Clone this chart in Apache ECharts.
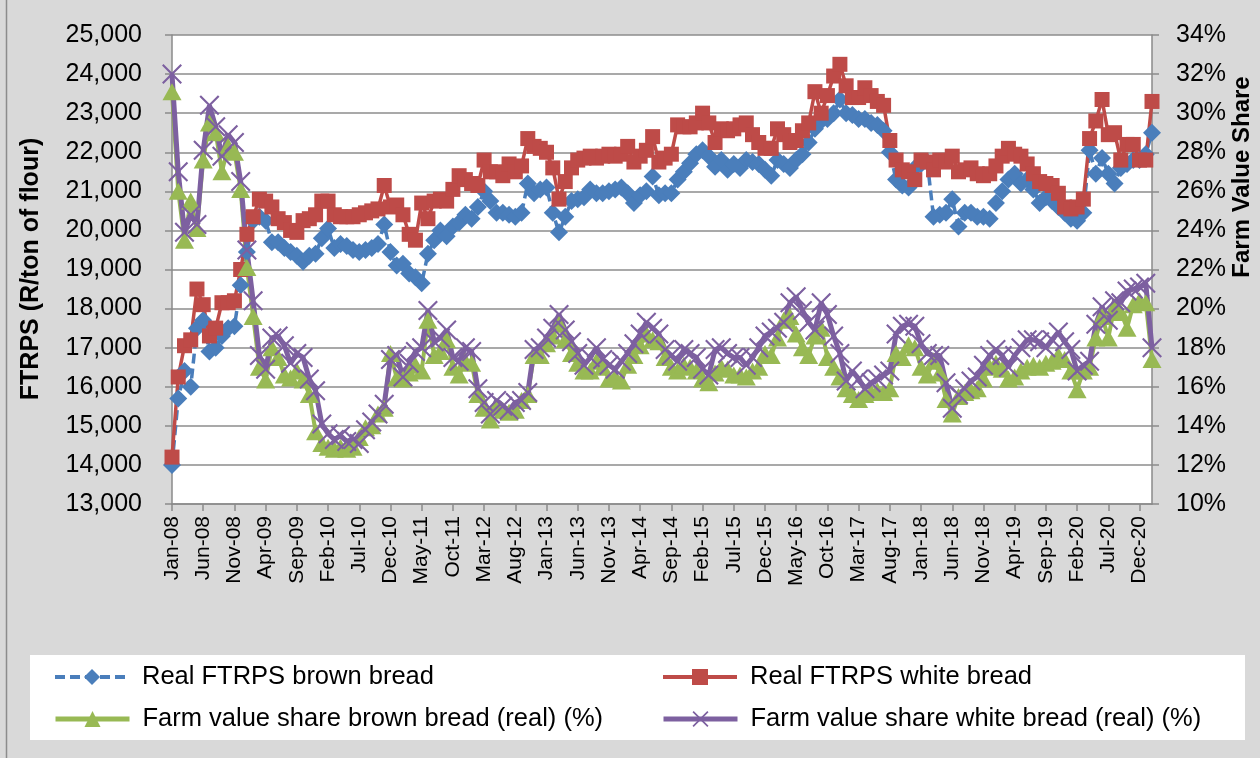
<!DOCTYPE html>
<html>
<head>
<meta charset="utf-8">
<script src="https://cdn.jsdelivr.net/npm/echarts@6/dist/echarts.min.js"></script>
<style>
  html, body { margin: 0; padding: 0; background: #d9d9d9; }
  #chart { width: 1260px; height: 758px; }
</style>
</head>
<body>
<div id="chart"></div>
<script>
// Monthly series, Jan-08 .. Feb-21
const MONTHS = ['Jan','Feb','Mar','Apr','May','Jun','Jul','Aug','Sep','Oct','Nov','Dec'];
const START_YEAR = 2008;

// Real farm-to-retail price spread (R/ton of flour)
const brownFtrps = [
  14000,15700,16400,16000,17500,17700,16900,17000,17300,17500,
  17550,18600,19450,20250,20350,20250,19700,19700,19550,19450,
  19350,19200,19350,19400,19800,20050,19550,19650,19600,19500,
  19450,19500,19550,19650,20150,19450,19100,19150,18900,18800,
  18650,19400,19750,20000,19850,20100,20200,20400,20300,20600,
  21000,20750,20450,20450,20400,20350,20450,21200,20950,21050,
  21100,20450,19950,20350,20750,20800,20850,21050,20950,20950,
  21000,21050,21100,20950,20700,20900,21000,21380,20900,20950,
  20950,21300,21500,21720,21950,22050,21900,21630,21800,21550,
  21700,21600,21800,21750,21700,21550,21400,21800,21700,21600,
  21800,21950,22250,22600,22800,22850,23000,23350,23000,22950,
  22850,22850,22750,22700,22550,22000,21300,21150,21100,21600,
  21700,21750,20350,20400,20450,20800,20100,20450,20450,20350,
  20350,20300,20700,21000,21300,21450,21200,21300,21050,20700,
  20850,20750,20600,20450,20300,20250,20450,22050,21450,21850,
  21450,21200,21600,21700,21800,21800,21950,22500
];
const whiteFtrps = [
  14200,16250,17050,17200,18500,18100,17300,17500,18150,18150,
  18200,19000,19900,20350,20800,20750,20600,20300,20200,20000,
  19950,20250,20300,20400,20750,20750,20400,20350,20350,20350,
  20400,20450,20500,20550,21150,20600,20650,20400,19900,19750,
  20700,20300,20750,20800,20750,21050,21400,21300,21200,21150,
  21800,21500,21500,21400,21700,21500,21650,22350,22150,22100,
  22000,21600,20800,21250,21600,21800,21850,21900,21850,21900,
  21950,21900,21950,22150,21750,21900,22050,22400,21750,21850,
  21950,22700,22650,22650,22750,23000,22750,22250,22600,22550,
  22600,22700,22750,22450,22250,22100,22100,22600,22450,22250,
  22300,22550,22750,23550,23000,23450,23950,24250,23700,23400,
  23400,23650,23450,23300,23200,22300,21800,21550,21500,21300,
  21800,21750,21550,21800,21750,21900,21500,21550,21600,21450,
  21400,21450,21650,21900,22100,21950,21900,21700,21450,21250,
  21200,21150,20950,20600,20550,20600,20800,22350,22800,23350,
  22450,22500,21800,22200,22200,21800,21800,23300
];

// Farm value share (%)
const brownShare = [
  31.1,26.0,23.5,25.5,24.1,27.6,29.5,29.0,27.0,28.3,
  28.0,26.1,22.1,19.6,17.0,16.35,18.0,17.5,16.6,16.45,
  16.8,16.35,15.6,13.7,13.1,12.9,12.8,12.9,12.8,12.9,
  13.4,13.9,14.0,14.6,14.9,17.7,16.45,16.4,16.7,17.1,
  16.8,19.4,17.6,17.8,18.4,17.0,16.6,17.3,17.2,15.6,
  14.9,14.3,15.0,14.8,14.7,14.8,15.3,15.6,17.6,17.6,
  18.2,18.6,19.2,18.4,17.7,17.2,16.8,16.8,17.3,17.0,
  16.4,16.5,16.3,17.1,17.6,18.1,18.7,18.4,18.3,17.5,
  17.0,16.8,17.1,17.0,16.8,16.4,16.2,16.7,17.0,16.9,
  16.6,16.6,16.5,16.8,17.0,17.7,17.6,18.5,19.4,19.6,
  18.7,18.0,17.6,18.6,19.0,17.5,17.0,16.5,15.9,15.6,
  15.35,15.6,15.7,15.8,15.7,15.9,17.7,17.5,18.15,18.0,
  17.0,16.6,17.3,16.7,15.35,14.6,15.5,15.7,15.8,15.9,
  16.4,17.0,17.2,16.9,16.4,16.5,16.8,17.0,17.1,17.0,
  17.2,17.3,17.6,17.4,16.8,15.85,16.8,17.0,18.5,19.6,
  18.5,20.1,19.8,19.0,20.2,20.4,20.3,17.4
];
const whiteShare = [
  32.0,27.0,23.9,24.8,24.3,28.1,30.4,29.3,27.8,28.9,
  28.5,26.5,23.0,20.4,17.6,16.9,18.5,18.6,18.1,17.2,
  17.7,17.5,16.4,15.8,14.1,13.6,13.3,13.5,13.2,13.3,
  13.1,13.8,14.2,14.6,15.1,17.4,17.6,16.5,17.2,17.8,
  18.0,19.9,18.3,18.5,18.9,17.5,17.3,18.0,17.8,15.9,
  15.2,14.6,15.3,15.0,14.8,15.2,15.3,15.7,17.9,18.0,
  18.5,19.0,19.7,18.9,18.3,17.7,17.1,17.5,18.0,17.4,
  17.1,16.9,17.3,17.7,18.2,18.7,19.3,19.0,18.7,17.9,
  17.6,17.3,17.9,17.7,17.5,16.9,16.6,17.9,18.0,17.7,
  17.5,17.5,17.1,17.5,18.0,18.6,18.8,19.0,19.3,20.3,
  20.6,19.9,19.3,18.9,20.3,19.7,18.6,17.7,16.3,16.8,
  16.4,15.9,16.2,16.4,16.6,16.8,18.7,19.1,19.2,19.1,
  18.2,17.7,17.6,17.6,16.2,14.9,15.6,15.9,16.3,16.5,
  17.1,17.6,17.9,17.6,17.0,17.6,18.0,18.4,18.4,18.3,
  18.0,18.4,18.8,18.3,17.9,16.8,17.1,17.3,19.2,20.1,
  19.4,20.4,20.3,20.9,21.0,21.1,21.3,18.0
];

// Month labels such as "Jan-08"
const categories = brownFtrps.map((_, i) =>
  MONTHS[i % 12] + '-' + String((START_YEAR + Math.floor(i / 12)) % 100).padStart(2, '0'));

const FONT = 'Liberation Sans, Arial, Helvetica, sans-serif';
const C_BLUE = '#4a7ebb', C_RED = '#be4b48', C_GREEN = '#98b954', C_PURPLE = '#7d60a0';
const AXIS_GREY = '#8a8a8a';
const X_MARK = 'path://M1.5,0L10,8.5L18.5,0L20,1.5L11.5,10L20,18.5L18.5,20L10,11.5L1.5,20L0,18.5L8.5,10L0,1.5Z';

const NAMES = [
  'Real FTRPS brown bread',
  'Real FTRPS white bread',
  'Farm value share brown bread (real) (%)',
  'Farm value share white bread (real) (%)'
];

const chart = echarts.init(document.getElementById('chart'), null, { renderer: 'canvas' });

function legendAt(name, left, top, lineWidth) {
  return {
    data: [name], left: left, top: top, orient: 'horizontal',
    itemWidth: 74, itemHeight: 20, padding: 0, selectedMode: false,
    lineStyle: { width: lineWidth },
    textStyle: { fontFamily: FONT, fontSize: 25.5, color: '#000', lineHeight: 28, padding: [0, 0, 0, 8] }
  };
}

chart.setOption({
  animation: false,
  backgroundColor: '#d9d9d9',
  textStyle: { fontFamily: FONT },
  grid: {
    left: 172, right: 108, top: 35, bottom: 254,
    show: true, backgroundColor: '#ffffff', borderWidth: 0
  },
  graphic: [
    { type: 'line', z: 0, shape: { x1: 6.5, y1: 0, x2: 6.5, y2: 758 },
      style: { stroke: '#8c8c8c', lineWidth: 1.5 } },
    { type: 'rect', z: 0, shape: { x: 30, y: 655, width: 1215, height: 85 },
      style: { fill: '#ffffff' } },
    { type: 'text', x: 31, y: 269, rotation: Math.PI / 2, z: 5,
      style: { text: 'FTRPS (R/ton of flour)', fontFamily: FONT, fontSize: 25, fontWeight: 'bold',
               fill: '#000', align: 'center', verticalAlign: 'middle' } },
    { type: 'text', x: 1242, y: 177, rotation: Math.PI / 2, z: 5,
      style: { text: 'Farm Value Share', fontFamily: FONT, fontSize: 24, fontWeight: 'bold',
               fill: '#000', align: 'center', verticalAlign: 'middle' } }
  ],
  legend: [
    legendAt(NAMES[0], 53, 663, 4),
    legendAt(NAMES[1], 661, 663, 4),
    legendAt(NAMES[2], 53, 705, 5),
    legendAt(NAMES[3], 661, 705, 5)
  ],
  xAxis: {
    type: 'category',
    data: categories,
    boundaryGap: false,
    axisLine: { lineStyle: { color: AXIS_GREY, width: 1.5 } },
    axisTick: { show: true, interval: 4, length: 7, lineStyle: { color: AXIS_GREY, width: 1.5 } },
    axisLabel: { interval: 4, rotate: 90, margin: 12, fontSize: 21, color: '#000', fontFamily: FONT },
    splitLine: { show: false }
  },
  yAxis: [
    {
      type: 'value', min: 13000, max: 25000, interval: 1000, position: 'left',
      axisLine: { show: true, lineStyle: { color: AXIS_GREY, width: 1.5 } },
      axisTick: { show: true, length: 7, lineStyle: { color: AXIS_GREY, width: 1.5 } },
      axisLabel: {
        margin: 30, fontSize: 25, color: '#000', fontFamily: FONT,
        formatter: v => v.toLocaleString('en-US')
      },
      splitLine: { show: true, lineStyle: { color: '#8c8c8c', width: 1.5 } }
    },
    {
      type: 'value', min: 10, max: 34, interval: 2, position: 'right',
      axisLine: { show: true, lineStyle: { color: AXIS_GREY, width: 1.5 } },
      axisTick: { show: true, length: 7, lineStyle: { color: AXIS_GREY, width: 1.5 } },
      axisLabel: { margin: 24, fontSize: 25, color: '#000', fontFamily: FONT, formatter: '{value}%' },
      splitLine: { show: false }
    }
  ],
  series: [
    {
      name: NAMES[0], type: 'line', yAxisIndex: 0, data: brownFtrps,
      symbol: 'diamond', symbolSize: 18, showAllSymbol: true,
      lineStyle: { color: C_BLUE, width: 3.5, type: [10, 5] },
      itemStyle: { color: C_BLUE }
    },
    {
      name: NAMES[1], type: 'line', yAxisIndex: 0, data: whiteFtrps,
      symbol: 'rect', symbolSize: 15, showAllSymbol: true,
      lineStyle: { color: C_RED, width: 3.5 },
      itemStyle: { color: C_RED }
    },
    {
      name: NAMES[2], type: 'line', yAxisIndex: 1, data: brownShare,
      symbol: 'triangle', symbolSize: [19, 17], showAllSymbol: true,
      lineStyle: { color: C_GREEN, width: 4 },
      itemStyle: { color: C_GREEN }
    },
    {
      name: NAMES[3], type: 'line', yAxisIndex: 1, data: whiteShare,
      symbol: X_MARK, symbolSize: 20, symbolKeepAspect: true, showAllSymbol: true,
      lineStyle: { color: C_PURPLE, width: 5 },
      itemStyle: { color: C_PURPLE }
    }
  ]
});
</script>
</body>
</html>
